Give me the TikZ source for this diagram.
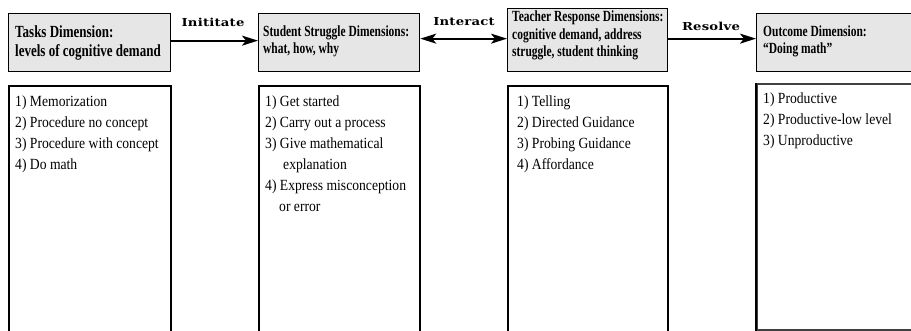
\documentclass[tikz,border=0pt]{standalone}
\usepackage{fontspec}
\setmainfont{Liberation Serif}[FakeStretch=0.88]
\newfontfamily\headfont{Liberation Serif}[FakeStretch=0.765]
\newfontfamily\narrowhead{Liberation Serif}[FakeStretch=0.74]
\newfontfamily\arrowfont{DejaVu Serif}[FakeStretch=1.2,LetterSpace=2]
\usetikzlibrary{arrows.meta}
\definecolor{hdfill}{HTML}{E6E6E6}
\begin{document}
\begin{tikzpicture}[x=1pt,y=-1pt,
  head/.style={draw=black, line width=1.3pt, fill=hdfill, inner sep=0pt, anchor=north west},
  body/.style={draw=black, line width=1.6pt, inner sep=0pt, anchor=north west},
  % multi-line texts are placed by the baseline of their last line
  htext/.style={anchor=base west, inner sep=0pt, align=left,
    font=\narrowhead\bfseries\fontsize{15.5}{17.5}\selectfont},
  bightext/.style={htext, font=\headfont\bfseries\fontsize{17}{19}\selectfont},
  btext/.style={anchor=base west, inner sep=0pt, align=left,
    font=\fontsize{15.5}{21}\selectfont},
  link/.style={line width=1.8pt, -{Stealth[length=16pt,width=10pt,inset=4pt]}},
  twoway/.style={line width=1.8pt, {Stealth[length=16pt,width=10pt,inset=4pt]}-{Stealth[length=16pt,width=10pt,inset=4pt]}},
  lbl/.style={font=\arrowfont\bfseries\fontsize{11}{12}\selectfont, inner sep=0pt}]
\useasboundingbox (0,0) rectangle (911,331);
\clip (0,0) rectangle (911,331);

% header boxes
\node[head, minimum width=162pt, minimum height=58pt] (h1) at (8,13) {};
\node[head, minimum width=161pt, minimum height=58pt] (h2) at (258,13) {};
\node[head, minimum width=160pt, minimum height=63pt] (h3) at (507,8) {};
\node[head, minimum width=180pt, minimum height=58pt] (h4) at (756,13) {};

% list boxes
\node[body, minimum width=162pt, minimum height=260pt] (b1) at (8,85) {};
\node[body, minimum width=161pt, minimum height=260pt] (b2) at (258,85) {};
\node[body, minimum width=160pt, minimum height=260pt] (b3) at (507,85) {};
\node[body, draw=black!75, minimum width=180pt, minimum height=246pt] (b4) at (756,83) {};
\draw[line width=1.6pt] (b4.north west) -- (b4.south west);

% header texts
\node[bightext] (t1) at (15,57) {Tasks Dimension:\\levels of cognitive demand};
\node[htext] (t2) at (263,54) {Student Struggle Dimensions:\\what, how, why};
\node[htext] (t3) at (512,57) {Teacher Response Dimensions:\\cognitive demand, address\\struggle, student thinking};
\node[htext] (t4) at (763,54) {Outcome Dimension:\\“Doing math”};

% list texts
\node[btext] (l1) at (15,170) {1) Memorization\\2) Procedure no concept\\3) Procedure with concept\\4) Do math};
\node[btext] (l2) at (265,212) {1) Get started\\2) Carry out a process\\3) Give mathematical\\\hspace{18pt}explanation\\4) Express misconception\\\hspace{14pt}or error};
\node[btext] (l3) at (517,170) {1) Telling\\2) Directed Guidance\\3) Probing Guidance\\4) Affordance};
\node[btext] (l4) at (763,146) {1) Productive\\2) Productive-low level\\3) Unproductive};

% connectors
\draw[link] ([yshift=2pt]h1.east) -- ([yshift=2pt]h2.west);
\draw[twoway] ([yshift=4pt]h2.east) -- ([yshift=1.5pt]h3.west);
\draw[link] ([yshift=1.5pt]h3.east) -- ([yshift=4pt]h4.west);

% connector labels
\node[lbl] (a1) at (213,22) {Inititate};
\node[lbl] (a2) at (464,22) {Interact};
\node[lbl] (a3) at (711,26.5) {Resolve};
\end{tikzpicture}
\end{document}
